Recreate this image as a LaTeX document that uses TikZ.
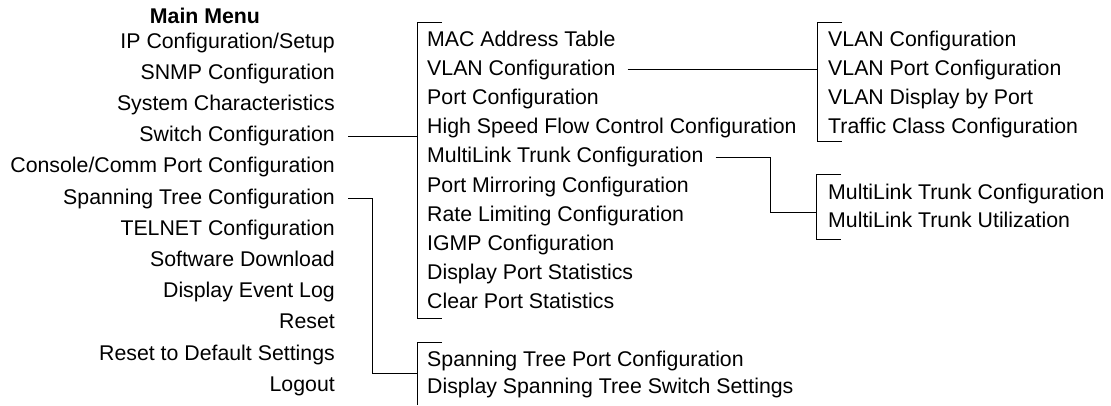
\documentclass[tikz,border=0pt]{standalone}
\usepackage{fontspec}
\setmainfont{Liberation Sans}
\begin{document}
\begin{tikzpicture}[x=1pt,y=-1pt,
        item/.style={
        inner sep=0pt, font=\fontsize{21.3}{21.3}\selectfont,
        text height=15pt, text depth=4pt},
        lft/.style={item, anchor=base east},
        rgt/.style={item, anchor=base west},
        bracket/.style={line width=0.8pt},
        ]
        \useasboundingbox (0,0) rectangle (1111,405);

        \node (main) [item, anchor=base, font=\bfseries\fontsize{21.3}{21.3}\selectfont] at (205,23){Main Menu};

        \node (ip) [lft] at (335,48){IP Configuration/Setup};
        \node (snmp) [lft] at (335,79.2){SNMP Configuration};
        \node (sys) [lft] at (335,110.4){System Characteristics};
        \node (switch) [lft] at (335,141.6){Switch Configuration};
        \node (console) [lft] at (335,172.8){Console/Comm Port Configuration};
        \node (stp) [lft] at (335,204){Spanning Tree Configuration};
        \node (telnet) [lft] at (335,235.2){TELNET Configuration};
        \node (soft) [lft] at (335,266.4){Software Download};
        \node (log) [lft] at (335,297.6){Display Event Log};
        \node (reset) [lft] at (335,328.8){Reset};
        \node (default) [lft] at (335,360){Reset to Default Settings};
        \node (logout) [lft] at (335,391.2){Logout};

        \node (mac) [rgt] at (427,46){MAC Address Table};
        \node (vlan) [rgt] at (427,75.2){VLAN Configuration};
        \node (port) [rgt] at (427,104.4){Port Configuration};
        \node (flow) [rgt] at (427,133.6){High Speed Flow Control Configuration};
        \node (trunk) [rgt] at (427,162.8){MultiLink Trunk Configuration};
        \node (mirror) [rgt] at (427,192){Port Mirroring Configuration};
        \node (rate) [rgt] at (427,221.2){Rate Limiting Configuration};
        \node (igmp) [rgt] at (427,250.4){IGMP Configuration};
        \node (pstat) [rgt] at (427,279.6){Display Port Statistics};
        \node (clear) [rgt] at (427,308.8){Clear Port Statistics};

        \node (stpport) [rgt] at (427,366){Spanning Tree Port Configuration};
        \node (stpshow) [rgt] at (427,393){Display Spanning Tree Switch Settings};

        \node (vconf) [rgt] at (828,46){VLAN Configuration};
        \node (vport) [rgt] at (828,75){VLAN Port Configuration};
        \node (vshow) [rgt] at (828,104){VLAN Display by Port};
        \node (traffic) [rgt] at (828,133){Traffic Class Configuration};

        \node (tconf) [rgt] at (828,199){MultiLink Trunk Configuration};
        \node (tuse) [rgt] at (828,227){MultiLink Trunk Utilization};

        % brackets
        \coordinate (swtop) at (417,22);
        \coordinate (swbot) at (417,318);
        \coordinate (sttop) at (417,342);
        \coordinate (stbot) at (417,405);
        \coordinate (vltop) at (817,22);
        \coordinate (vlbot) at (817,141);
        \coordinate (mltop) at (816,174);
        \coordinate (mlbot) at (816,239);

        \draw [bracket] ([xshift=25pt]swtop) -- (swtop) -- (swbot) -- ([xshift=25pt]swbot);
        \draw [bracket] ([xshift=25pt]sttop) -- (sttop) -- (stbot);
        \draw [bracket] ([xshift=25pt]vltop) -- (vltop) -- (vlbot) -- ([xshift=25pt]vlbot);
        \draw [bracket] ([xshift=25pt]mltop) -- (mltop) -- (mlbot) -- ([xshift=25pt]mlbot);

        % connectors
        \draw [bracket] ([xshift=13pt]switch.east) -- (switch.east -| swtop);
        \draw [bracket] ([xshift=12pt]vlan.east) -- (vlan.east -| vltop);
        \draw [bracket] ([xshift=13pt]stp.east) -- ++(24,0) |- (417,373);
        \draw [bracket] ([xshift=12pt]trunk.east) -- ++(55,0) |- (816,212);
\end{tikzpicture}
\end{document}
